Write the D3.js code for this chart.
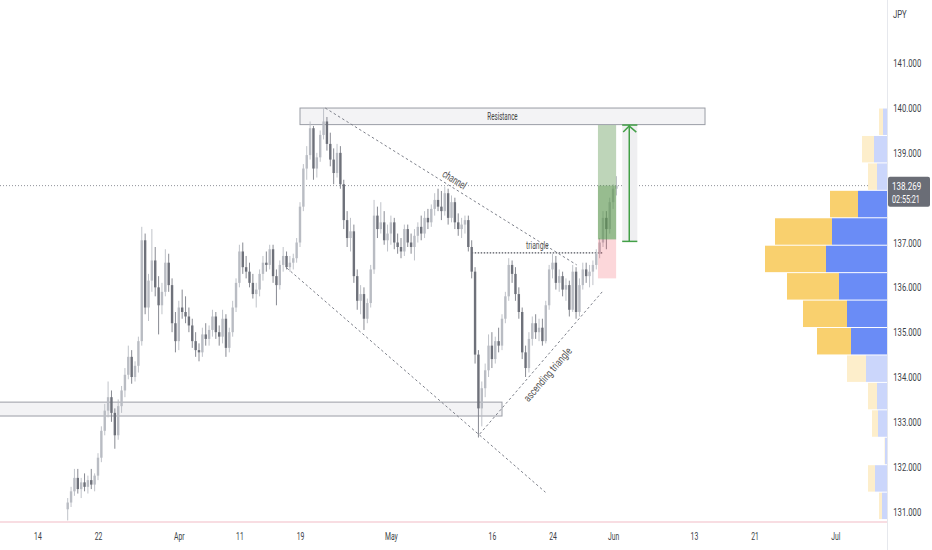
<!DOCTYPE html>
<html>
<head>
<meta charset="utf-8">
<script src="https://cdn.jsdelivr.net/npm/d3@7"></script>
<style>
  body { margin: 0; background: #fff; }
  text { font-family: Roboto, "Noto Sans", sans-serif; }
</style>
</head>
<body>
<div id="chart"></div>
<script>
// EURJPY, 8h bars. Index 0 = Mar 14 (trading days, weekends skipped)
var firstDay = 3;
var barsPerDay = 3;
var ohlc = [
  [131.05,131.30,130.80,131.20],[131.20,131.55,131.10,131.45],[131.45,131.95,131.35,131.75],
  [131.75,131.95,131.40,131.50],[131.50,131.75,131.30,131.65],[131.65,131.85,131.45,131.55],
  [131.55,131.80,131.40,131.70],[131.70,131.95,131.50,131.60],[131.60,131.85,131.45,131.80],
  [131.80,132.30,131.70,132.20],[132.20,132.90,132.10,132.80],[132.80,133.40,132.70,133.25],
  [133.25,133.90,133.10,133.55],[133.55,133.70,133.00,133.20],[133.20,133.30,132.40,132.70],
  [132.70,133.50,132.60,133.35],[133.35,133.80,133.20,133.70],[133.70,134.20,133.55,134.05],
  [134.05,134.70,133.95,134.45],[134.45,134.60,133.85,134.00],[134.00,134.35,133.90,134.25],
  [134.25,134.90,134.10,134.80],[134.80,137.35,134.70,137.05],[137.05,137.20,135.40,135.55],
  [135.55,136.30,135.25,136.15],[136.15,137.30,135.90,136.60],[136.60,136.90,135.80,136.00],
  [136.00,136.25,134.95,135.60],[135.60,136.10,135.40,135.90],[135.90,136.85,135.80,136.55],
  [136.55,136.75,135.90,136.05],[136.05,136.20,135.00,135.20],[135.20,135.45,134.55,134.80],
  [134.80,135.70,134.60,135.55],[135.55,135.95,135.30,135.45],[135.45,135.80,135.20,135.35],
  [135.35,135.55,135.00,135.15],[135.15,135.30,134.65,134.80],[134.80,135.00,134.45,134.60],
  [134.60,134.75,134.35,134.55],[134.55,135.10,134.45,134.95],[134.95,135.20,134.70,134.85],
  [134.85,135.15,134.70,135.05],[135.05,135.50,134.90,135.35],[135.35,135.45,134.85,135.00],
  [135.00,135.15,134.70,134.90],[134.90,135.50,134.75,135.30],[135.30,135.40,134.45,134.65],
  [134.65,135.10,134.55,135.00],[135.00,135.70,134.90,135.55],[135.55,136.20,135.45,136.10],
  [136.10,136.95,136.00,136.80],[136.80,137.00,136.30,136.45],[136.45,136.70,136.20,136.35],
  [136.35,136.55,136.00,136.10],[136.10,136.30,135.75,135.85],[135.85,136.10,135.55,135.95],
  [135.95,136.40,135.80,136.30],[136.30,136.70,136.15,136.55],[136.55,136.80,136.35,136.50],
  [136.50,136.95,136.40,136.85],[136.85,136.95,136.10,136.25],[136.25,136.40,135.60,136.05],
  [136.05,136.60,135.95,136.50],[136.50,136.90,136.35,136.70],[136.70,136.80,136.40,136.45],
  [136.45,136.70,136.35,136.55],[136.55,136.75,136.40,136.65],[136.65,137.10,136.55,137.00],
  [137.00,137.90,136.90,137.80],[137.80,138.75,137.70,138.65],[138.65,139.15,138.40,138.95],
  [138.95,139.70,138.85,139.55],[139.55,139.60,138.40,138.65],[138.65,139.00,138.45,138.90],
  [138.90,139.50,138.80,139.40],[139.40,140.00,139.30,139.70],[139.70,139.80,139.05,139.20],
  [139.20,139.45,138.70,138.85],[138.85,139.10,138.30,138.55],[138.55,139.20,138.45,139.00],
  [139.00,139.15,138.20,138.30],[138.30,138.40,137.30,137.50],[137.50,137.70,136.90,137.10],
  [137.10,137.55,136.80,137.25],[137.25,137.40,136.10,136.25],[136.25,136.40,135.50,135.70],
  [135.70,136.05,135.40,135.85],[135.85,136.00,135.05,135.30],[135.30,135.75,135.20,135.65],
  [135.65,136.50,135.55,136.40],[136.40,137.95,136.30,137.60],[137.60,137.80,137.10,137.30],
  [137.30,137.90,137.20,137.45],[137.45,137.70,136.95,137.05],[137.05,137.40,136.80,137.20],
  [137.20,137.60,136.95,137.45],[137.45,137.55,136.85,137.00],[137.00,137.20,136.75,136.90],
  [136.90,137.10,136.65,136.80],[136.80,137.40,136.70,137.30],[137.30,137.40,136.90,137.00],
  [137.00,137.20,136.75,136.90],[136.90,137.30,136.60,137.15],[137.15,137.45,137.00,137.35],
  [137.35,137.60,137.05,137.20],[137.20,137.70,137.10,137.55],[137.55,137.75,137.30,137.45],
  [137.45,137.85,137.35,137.75],[137.75,138.10,137.60,137.95],[137.95,138.20,137.70,137.80],
  [137.80,138.15,137.50,137.70],[137.70,138.25,137.60,138.10],[138.10,138.20,137.40,137.55],
  [137.55,138.05,137.45,137.90],[137.90,138.00,137.30,137.45],[137.45,137.65,137.15,137.30],
  [137.30,137.55,137.10,137.40],[137.40,137.60,137.20,137.50],[137.50,137.60,136.80,136.90],
  [136.90,137.05,136.20,136.35],[136.35,136.45,134.30,134.50],[134.50,134.60,132.65,133.30],
  [133.30,133.90,132.90,133.75],[133.75,134.30,133.55,134.15],[134.15,134.95,134.00,134.70],
  [134.70,135.00,134.20,134.40],[134.40,134.90,134.30,134.80],[134.80,135.10,134.55,134.70],
  [134.70,135.40,134.60,135.30],[135.30,135.90,135.20,135.80],[135.80,136.65,135.70,136.50],
  [136.50,136.60,136.10,136.30],[136.30,136.45,135.70,135.85],[135.85,136.00,135.30,135.45],
  [135.45,135.55,134.40,134.55],[134.55,134.70,134.00,134.20],[134.20,135.00,134.10,134.85],
  [134.85,135.35,134.70,135.20],[135.20,135.40,134.85,135.00],[135.00,135.30,134.80,135.10],
  [135.10,135.30,134.70,134.80],[134.80,135.70,134.75,135.60],[135.60,136.50,135.50,136.40],
  [136.40,136.75,136.20,136.55],[136.55,136.70,135.95,136.10],[136.10,136.40,135.90,136.25],
  [136.25,136.35,135.80,135.95],[135.95,136.20,135.70,136.05],[136.05,136.15,135.35,135.50],
  [135.50,136.50,135.45,136.35],[136.35,136.45,135.30,135.45],[135.45,136.20,135.35,136.05],
  [136.05,136.55,135.95,136.40],[136.40,136.55,136.10,136.25],[136.25,136.50,136.00,136.35],
  [136.35,136.60,136.05,136.50],[136.50,136.85,136.40,136.75],[136.75,137.10,136.65,137.00],
  [137.00,137.70,136.90,137.55],[137.55,137.70,136.85,137.30],[137.30,138.00,137.20,137.90],
  [137.90,138.30,137.75,138.20],[138.20,138.48,138.05,138.27]
];

// time axis
var dayIndex  = [0, 6, 14, 20, 26, 35, 45, 51, 57, 65, 71, 79];
var dayLabels = ["14", "22", "Apr", "11", "19", "May", "16", "24", "Jun", "13", "21", "Jul"];

// price axis
var priceTicks = [131, 132, 133, 134, 135, 136, 137, 139, 140, 141];
var lastPrice = 138.269;
var countdown = "02:55:21";

// volume profile (rows from top to bottom)
var vpTop = 140.0, vpBottom = 130.82;
var vpUp   = [0.4, 1.3, 1.0, 2.9, 5.5, 6.1, 4.8, 4.0, 3.6, 2.1, 1.0, 0.9, 0.2, 1.2, 0.5];
var vpDown = [0.4, 1.2, 0.9, 2.8, 5.7, 6.1, 5.2, 4.4, 3.4, 1.9, 0.9, 0.6, 0.05, 0.7, 0.3];
var vpValueArea = [false, false, false, true, true, true, true, true, true, false, false, false, false, false, false];

// drawings: [day0, price0, day1, price1]
var resistanceZone = [26.0, 139.63, 66.1, 140.0];
var supportZone = [-4, 133.13, 46.0, 133.44];
var channelUpper = [28.5, 140.0, 53.4, 136.5];
var channelLower = [24.7, 136.43, 50.3, 131.43];
var triangleLine = [43.0, 136.77, 56.0, 136.77];
var ascendingLine = [43.8, 132.73, 56.0, 135.92];
// long position: [day0, day1, entry, target, stop]
var longPos = [55.5, 57.3, 137.07, 139.62, 136.2];
var arrowBand = [57.9, 58.6, 59.4];

var width = 932, height = 550;
var paneRight = 887, paneBottom = 522;

var x = d3.scaleLinear().domain([0, 79]).range([37.4, 835.3]);
var y = d3.scaleLinear().domain([131, 141]).range([511.5, 63.2]);
var vx = d3.scaleLinear().domain([0, 10]).range([0, 100]);

var svg = d3.select("#chart").append("svg")
    .attr("width", width)
    .attr("height", height)
    .style("display", "block");

svg.append("rect").attr("width", width).attr("height", height).attr("fill", "#fff");

svg.append("clipPath").attr("id", "pane")
  .append("rect").attr("width", paneRight).attr("height", paneBottom);

var pane = svg.append("g").attr("clip-path", "url(#pane)");

// narrow text helper (the screenshot is squeezed horizontally)
function label(parent, px, py, txt, opt) {
    opt = opt || {};
    var g = parent.append("g")
        .attr("transform", "translate(" + px + "," + py + ") rotate(" + (opt.angle || 0) + ") scale(" + (opt.sx || 0.62) + ",1)");
    return g.append("text")
        .attr("text-anchor", opt.anchor || "middle")
        .attr("font-size", opt.size || 11)
        .attr("fill", opt.fill || "#555")
        .text(txt);
}

function tOf(i) { return firstDay + i / barsPerDay; }

// zones
pane.append("rect")
    .attr("x", x(supportZone[0])).attr("y", y(supportZone[3]))
    .attr("width", x(supportZone[2]) - x(supportZone[0]))
    .attr("height", y(supportZone[1]) - y(supportZone[3]))
    .attr("fill", "#f3f3f5").attr("stroke", "#9a9da5").attr("stroke-width", 1);

pane.append("rect")
    .attr("x", x(resistanceZone[0])).attr("y", y(resistanceZone[3]))
    .attr("width", x(resistanceZone[2]) - x(resistanceZone[0]))
    .attr("height", y(resistanceZone[1]) - y(resistanceZone[3]))
    .attr("fill", "#f3f3f5").attr("stroke", "#9a9da5").attr("stroke-width", 1);

label(pane, x((resistanceZone[0] + resistanceZone[2]) / 2), y((resistanceZone[1] + resistanceZone[3]) / 2) + 3.5, "Resistance", { size: 10, fill: "#444" });

// current price line
pane.append("line")
    .attr("x1", 0).attr("x2", paneRight)
    .attr("y1", y(lastPrice)).attr("y2", y(lastPrice))
    .attr("stroke", "#8f929a").attr("stroke-width", 1).attr("stroke-dasharray", "1,2");

// volume profile
var rowH = (vpTop - vpBottom) / vpUp.length;
var vp = pane.append("g");
vpUp.forEach(function(u, r) {
    var top = y(vpTop - r * rowH) + 0.5;
    var bot = y(vpTop - (r + 1) * rowH) - 0.5;
    var inVA = vpValueArea[r];
    vp.append("rect")
        .attr("x", paneRight - vx(u)).attr("y", top)
        .attr("width", vx(u)).attr("height", bot - top)
        .attr("fill", inVA ? "#6a8cf6" : "#cbd6fb");
    vp.append("rect")
        .attr("x", paneRight - vx(u) - vx(vpDown[r])).attr("y", top)
        .attr("width", vx(vpDown[r])).attr("height", bot - top)
        .attr("fill", inVA ? "#f9d06e" : "#fdeecb");
});

// trend lines
function seg(d, stroke, dash, w) {
    pane.append("line")
        .attr("x1", x(d[0])).attr("y1", y(d[1]))
        .attr("x2", x(d[2])).attr("y2", y(d[3]))
        .attr("stroke", stroke).attr("stroke-width", w || 1)
        .attr("stroke-dasharray", dash);
}
seg(channelUpper, "#7d808a", "2.5,2.5");
seg(channelLower, "#7d808a", "2.5,2.5");
seg(ascendingLine, "#7d808a", "2.5,2.5");
seg(triangleLine, "#50535c", "1.5,1.5", 1.3);

// candles
var bars = pane.append("g");
bars.selectAll("line")
    .data(ohlc).enter().append("line")
    .attr("x1", function(d, i) { return x(tOf(i)); })
    .attr("x2", function(d, i) { return x(tOf(i)); })
    .attr("y1", function(d) { return y(d[1]); })
    .attr("y2", function(d) { return y(d[2]); })
    .attr("stroke", function(d) { return d[3] >= d[0] ? "#b9bcc3" : "#7a7d86"; })
    .attr("stroke-width", 0.9);

bars.selectAll("rect")
    .data(ohlc).enter().append("rect")
    .attr("x", function(d, i) { return x(tOf(i)) - 1.2; })
    .attr("y", function(d) { return y(Math.max(d[0], d[3])); })
    .attr("width", 2.4)
    .attr("height", function(d) { return Math.max(0.8, Math.abs(y(d[0]) - y(d[3]))); })
    .attr("fill", function(d) { return d[3] >= d[0] ? "#b9bcc3" : "#6e717a"; });

// long position tool
var lx0 = x(longPos[0]), lx1 = x(longPos[1]);
pane.append("rect")
    .attr("x", lx0).attr("y", y(longPos[3]))
    .attr("width", lx1 - lx0).attr("height", y(longPos[2]) - y(longPos[3]))
    .attr("fill", "rgba(92,150,80,0.4)");
pane.append("rect")
    .attr("x", lx0).attr("y", y(lastPrice))
    .attr("width", lx1 - lx0).attr("height", y(longPos[2]) - y(lastPrice))
    .attr("fill", "rgba(92,150,80,0.4)");
pane.append("rect")
    .attr("x", lx0).attr("y", y(longPos[2]))
    .attr("width", lx1 - lx0).attr("height", y(longPos[4]) - y(longPos[2]))
    .attr("fill", "rgba(242,54,69,0.2)");

// measure arrow
var ax0 = x(arrowBand[0]), axm = x(arrowBand[1]), ax1 = x(arrowBand[2]);
var ayTop = y(longPos[3]), ayBot = y(longPos[2]) + 2;
pane.append("rect")
    .attr("x", ax0).attr("y", ayTop)
    .attr("width", ax1 - ax0).attr("height", ayBot - ayTop)
    .attr("fill", "#efeff1");
var ac = "#43a047";
pane.append("line").attr("x1", axm).attr("x2", axm).attr("y1", ayTop).attr("y2", ayBot)
    .attr("stroke", ac).attr("stroke-width", 1.5);
pane.append("line").attr("x1", ax0).attr("x2", ax1).attr("y1", ayTop).attr("y2", ayTop)
    .attr("stroke", ac).attr("stroke-width", 1.5);
pane.append("line").attr("x1", ax0).attr("x2", ax1).attr("y1", ayBot).attr("y2", ayBot)
    .attr("stroke", ac).attr("stroke-width", 1.5);
pane.append("path")
    .attr("d", "M" + (ax0 + 1) + "," + (ayTop + 7) + "L" + axm + "," + (ayTop + 1) + "L" + (ax1 - 1) + "," + (ayTop + 7))
    .attr("fill", "none").attr("stroke", ac).attr("stroke-width", 1.5);

// drawing labels
var ang1 = Math.atan2(y(channelUpper[3]) - y(channelUpper[1]), x(channelUpper[2]) - x(channelUpper[0])) * 180 / Math.PI;
label(pane, x(41.1), y(138.33), "channel", { angle: ang1, size: 11, sx: 0.68 });
label(pane, x(49.5), y(136.86), "triangle", { size: 11, sx: 0.62 });
var ang2 = Math.atan2(y(ascendingLine[3]) - y(ascendingLine[1]), x(ascendingLine[2]) - x(ascendingLine[0])) * 180 / Math.PI;
label(pane, x(50.8), y(134.0), "ascending triangle", { angle: ang2, size: 11, sx: 0.75 });

// frame
svg.append("line")
    .attr("x1", 0).attr("x2", paneRight).attr("y1", paneBottom).attr("y2", paneBottom)
    .attr("stroke", "#f6d2d8").attr("stroke-width", 1.5);
svg.append("line")
    .attr("x1", paneRight + 0.5).attr("x2", paneRight + 0.5).attr("y1", 0).attr("y2", height)
    .attr("stroke", "#e6e8ed").attr("stroke-width", 1);

// price axis
var yAxis = svg.append("g")
    .attr("transform", "translate(" + paneRight + ",0)")
    .call(d3.axisRight(y).tickValues(priceTicks).tickFormat(d3.format(".3f")).tickSize(0).tickPadding(9));
yAxis.select(".domain").remove();
yAxis.selectAll("text")
    .attr("font-size", 11)
    .attr("fill", "#3c3f48")
    .attr("font-family", "Roboto, sans-serif")
    .attr("transform", "scale(0.7,1)");

label(svg, 893, 18, "JPY", { anchor: "start", size: 11, sx: 0.7, fill: "#3c3f48" });

// last price label
var lp = y(lastPrice);
svg.append("rect")
    .attr("x", paneRight + 1).attr("y", lp - 9)
    .attr("width", 42).attr("height", 30)
    .attr("rx", 2)
    .attr("fill", "#6a6d76");
label(svg, paneRight + 5, lp + 4, d3.format(".3f")(lastPrice), { anchor: "start", size: 11.5, sx: 0.7, fill: "#fff" });
label(svg, paneRight + 5, lp + 17, countdown, { anchor: "start", size: 11, sx: 0.66, fill: "#fff" });

// time axis
var xAxis = svg.append("g")
    .attr("transform", "translate(0," + paneBottom + ")")
    .call(d3.axisBottom(x).tickValues(dayIndex).tickFormat(function(d, i) { return dayLabels[i]; }).tickSize(0).tickPadding(10));
xAxis.select(".domain").remove();
xAxis.selectAll("text")
    .attr("font-size", 11)
    .attr("fill", "#3c3f48")
    .attr("font-family", "Roboto, sans-serif")
    .attr("transform", "scale(0.62,1)");
</script>
</body>
</html>
